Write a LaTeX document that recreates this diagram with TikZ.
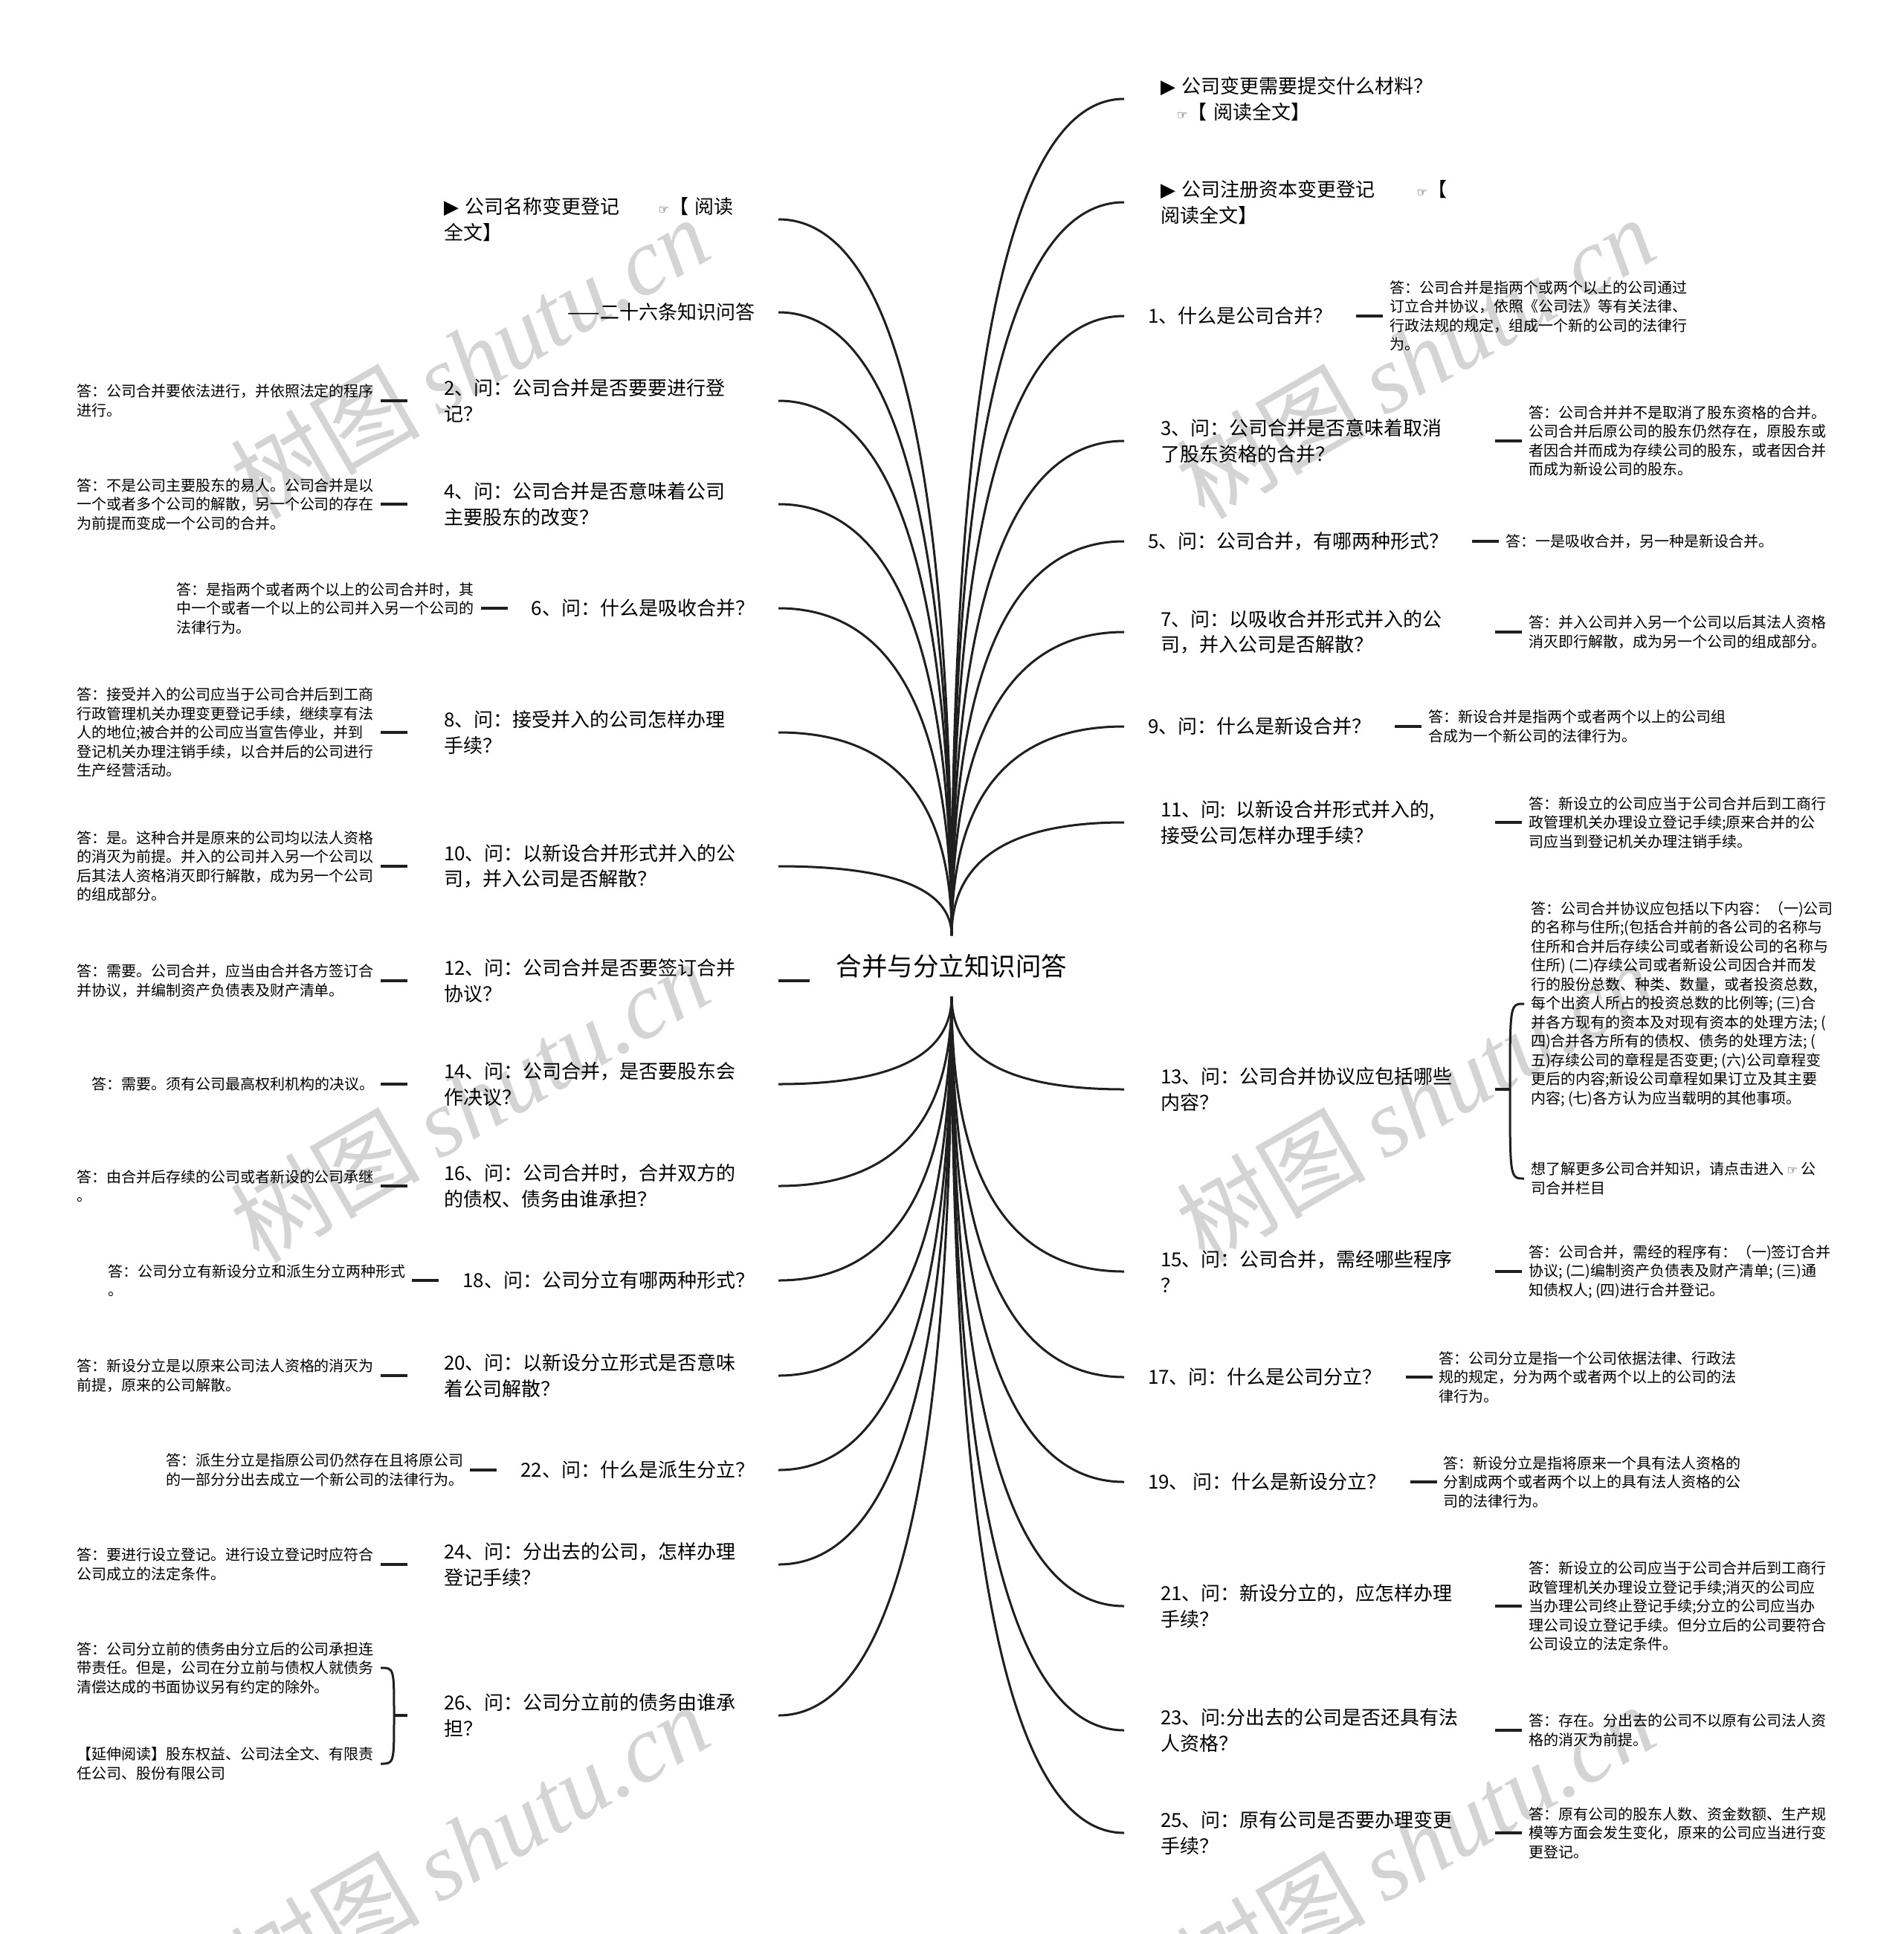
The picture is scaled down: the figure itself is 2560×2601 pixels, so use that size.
\documentclass[tikz,border=0pt]{standalone}
\usepackage{fontspec}
\setmainfont{Noto Sans CJK SC}
\newfontfamily\sym{DejaVu Sans}
\newfontfamily\wmlat{Liberation Serif}
\usetikzlibrary{calc,positioning}
\newcommand\rootlink[2]{\draw[link] (#1) .. controls ($(#1)!0.667!(#1|-#2)$) and ($(#2)!0.667!(#1|-#2)$) .. (#2);}
\newcommand\hand{{\sym\fontsize{8}{8}\selectfont ☞}}
\newcommand\tri{{\sym ▶}}
\newcommand\wmark[2]{\node[wm] (#1) at (#2) {树图\kern12pt{\wmlat\itshape shutu.cn}};}
\begin{document}
\begin{tikzpicture}[x=0.5pt,y=-0.5pt,
  every node/.style={inner sep=0pt, outer sep=0pt},
  qtwo/.style={text width=200.5pt, align=left, inner xsep=24.5pt, inner ysep=0pt, font=\fontsize{13}{17.25}\selectfont},
  qone/.style={inner xsep=16pt, inner ysep=0pt, font=\fontsize{13}{17.25}\selectfont},
  ans/.style={align=left, inner xsep=4.5pt, inner ysep=0pt, font=\fontsize{10}{12.75}\selectfont},
  rootnode/.style={font=\fontsize{17.25}{20}\selectfont, minimum height=41pt, inner xsep=18pt, inner ysep=0pt},
  link/.style={line width=1.5pt, draw=black!88},
  stub/.style={line width=1.7pt, draw=black!88},
  wm/.style={text=black!17, font=\fontsize{64}{66}\selectfont, inner sep=0pt, anchor=base west, rotate=30},
]
\useasboundingbox (0,0) rectangle (2560,2601);
\clip (0,0) rectangle (2560,2601);
\fill[white] (0,0) rectangle (2560,2601);

% watermarks
\wmark{wm1}{348,700}
\wmark{wm2}{1620,700}
\wmark{wm3}{348,1700}
\wmark{wm4}{1620,1700}
\wmark{wm5}{348,2700}
\wmark{wm6}{1620,2700}

% root
\node[rootnode] (root) at (1280,1299) {合并与分立知识问答};

% ---------------- left questions
\node[qtwo, anchor=east] (qL0) at (1047,295) {\tri\ 公司名称变更登记\hspace{26pt}\hand【 阅读\\全文】};
\node[qone, anchor=east] (qL1) at (1047,420) {——二十六条知识问答};
\node[qtwo, anchor=east] (qL2) at (1047,539) {2、问：公司合并是否要要进行登\\记？};
\node[qtwo, anchor=east] (qL3) at (1047,678) {4、问：公司合并是否意味着公司\\主要股东的改变？};
\node[qone, anchor=east] (qL4) at (1047,818) {6、问：什么是吸收合并？};
\node[qtwo, anchor=east] (qL5) at (1047,985) {8、问：接受并入的公司怎样办理\\手续？};
\node[qtwo, anchor=east] (qL6) at (1047,1165) {10、问：以新设合并形式并入的公\\司，并入公司是否解散？};
\node[qtwo, anchor=east] (qL7) at (1047,1319) {12、问：公司合并是否要签订合并\\协议？};
\node[qtwo, anchor=east] (qL8) at (1047,1458) {14、问：公司合并，是否要股东会\\作决议？};
\node[qtwo, anchor=east] (qL9) at (1047,1595) {16、问：公司合并时，合并双方的\\的债权、债务由谁承担？};
\node[qone, anchor=east] (qL10) at (1047,1722) {18、问：公司分立有哪两种形式？};
\node[qtwo, anchor=east] (qL11) at (1047,1850) {20、问：以新设分立形式是否意味\\着公司解散？};
\node[qone, anchor=east] (qL12) at (1047,1977) {22、问：什么是派生分立？};
\node[qtwo, anchor=east] (qL13) at (1047,2104) {24、问：分出去的公司，怎样办理\\登记手续？};
\node[qtwo, anchor=east] (qL14) at (1047,2307) {26、问：公司分立前的债务由谁承\\担？};

% ---------------- left answers
\node[ans, left=18pt of qL2] (aL2) {答：公司合并要依法进行，并依照法定的程序\\进行。};
\node[ans, left=18pt of qL3] (aL3) {答：不是公司主要股东的易人。公司合并是以\\一个或者多个公司的解散，另一个公司的存在\\为前提而变成一个公司的合并。};
\node[ans, left=18pt of qL4] (aL4) {答：是指两个或者两个以上的公司合并时，其\\中一个或者一个以上的公司并入另一个公司的\\法律行为。};
\node[ans, left=18pt of qL5] (aL5) {答：接受并入的公司应当于公司合并后到工商\\行政管理机关办理变更登记手续，继续享有法\\人的地位;被合并的公司应当宣告停业，并到\\登记机关办理注销手续，以合并后的公司进行\\生产经营活动。};
\node[ans, left=18pt of qL6] (aL6) {答：是。这种合并是原来的公司均以法人资格\\的消灭为前提。并入的公司并入另一个公司以\\后其法人资格消灭即行解散，成为另一个公司\\的组成部分。};
\node[ans, left=18pt of qL7] (aL7) {答：需要。公司合并，应当由合并各方签订合\\并协议，并编制资产负债表及财产清单。};
\node[ans, left=18pt of qL8] (aL8) {答：需要。须有公司最高权利机构的决议。};
\node[ans, left=18pt of qL9] (aL9) {答：由合并后存续的公司或者新设的公司承继\\。};
\node[ans, left=18pt of qL10] (aL10) {答：公司分立有新设分立和派生分立两种形式\\。};
\node[ans, left=18pt of qL11] (aL11) {答：新设分立是以原来公司法人资格的消灭为\\前提，原来的公司解散。};
\node[ans, left=18pt of qL12] (aL12) {答：派生分立是指原公司仍然存在且将原公司\\的一部分分出去成立一个新公司的法律行为。};
\node[ans, left=18pt of qL13] (aL13) {答：要进行设立登记。进行设立登记时应符合\\公司成立的法定条件。};
\node[ans, anchor=east] (aL14a) at (512,2243) {答：公司分立前的债务由分立后的公司承担连\\带责任。但是，公司在分立前与债权人就债务\\清偿达成的书面协议另有约定的除外。};
\node[ans, anchor=east] (aL14b) at (512,2372) {【延伸阅读】股东权益、公司法全文、有限责\\任公司、股份有限公司};

% ---------------- right questions
\node[qtwo, anchor=west] (qR0) at (1512,133) {\tri\ 公司变更需要提交什么材料？\\\hspace*{11pt}\hand【 阅读全文】};
\node[qtwo, anchor=west] (qR1) at (1512,272) {\tri\ 公司注册资本变更登记\hspace{28pt}\hand【\\阅读全文】};
\node[qone, anchor=west] (qR2) at (1512,425) {1、什么是公司合并？};
\node[qtwo, anchor=west] (qR3) at (1512,593) {3、问：公司合并是否意味着取消\\了股东资格的合并？};
\node[qone, anchor=west] (qR4) at (1512,728) {5、问：公司合并，有哪两种形式？};
\node[qtwo, anchor=west] (qR5) at (1512,850) {7、问：以吸收合并形式并入的公\\司，并入公司是否解散？};
\node[qone, anchor=west] (qR6) at (1512,977) {9、问：什么是新设合并？};
\node[qtwo, anchor=west] (qR7) at (1512,1106) {11、问: 以新设合并形式并入的,\\接受公司怎样办理手续？};
\node[qtwo, anchor=west] (qR8) at (1512,1465) {13、问：公司合并协议应包括哪些\\内容？};
\node[qtwo, anchor=west] (qR9) at (1512,1710) {15、问：公司合并，需经哪些程序\\？};
\node[qone, anchor=west] (qR10) at (1512,1852) {17、问：什么是公司分立？};
\node[qone, anchor=west] (qR11) at (1512,1993) {19、 问：什么是新设分立？};
\node[qtwo, anchor=west] (qR12) at (1512,2160) {21、问：新设分立的，应怎样办理\\手续？};
\node[qtwo, anchor=west] (qR13) at (1512,2327) {23、问:分出去的公司是否还具有法\\人资格？};
\node[qtwo, anchor=west] (qR14) at (1512,2465) {25、问：原有公司是否要办理变更\\手续？};

% ---------------- right answers
\node[ans, right=18pt of qR2] (aR2) {答：公司合并是指两个或两个以上的公司通过\\订立合并协议，依照《公司法》等有关法律、\\行政法规的规定，组成一个新的公司的法律行\\为。};
\node[ans, right=18pt of qR3] (aR3) {答：公司合并并不是取消了股东资格的合并。\\公司合并后原公司的股东仍然存在，原股东或\\者因合并而成为存续公司的股东，或者因合并\\而成为新设公司的股东。};
\node[ans, right=18pt of qR4] (aR4) {答：一是吸收合并，另一种是新设合并。};
\node[ans, right=18pt of qR5] (aR5) {答：并入公司并入另一个公司以后其法人资格\\消灭即行解散，成为另一个公司的组成部分。};
\node[ans, right=18pt of qR6] (aR6) {答：新设合并是指两个或者两个以上的公司组\\合成为一个新公司的法律行为。};
\node[ans, right=18pt of qR7] (aR7) {答：新设立的公司应当于公司合并后到工商行\\政管理机关办理设立登记手续;原来合并的公\\司应当到登记机关办理注销手续。};
\node[ans, anchor=west] (aR8a) at (2050,1350) {答：公司合并协议应包括以下内容：（一)公司\\的名称与住所;(包括合并前的各公司的名称与\\住所和合并后存续公司或者新设公司的名称与\\住所) (二)存续公司或者新设公司因合并而发\\行的股份总数、种类、数量，或者投资总数,\\每个出资人所占的投资总数的比例等; (三)合\\并各方现有的资本及对现有资本的处理方法; (\\四)合并各方所有的债权、债务的处理方法; (\\五)存续公司的章程是否变更; (六)公司章程变\\更后的内容;新设公司章程如果订立及其主要\\内容; (七)各方认为应当载明的其他事项。};
\node[ans, anchor=west] (aR8b) at (2050,1585) {想了解更多公司合并知识，请点击进入 \hand\ 公\\司合并栏目};
\node[ans, right=18pt of qR9] (aR9) {答：公司合并，需经的程序有：（一)签订合并\\协议; (二)编制资产负债表及财产清单; (三)通\\知债权人; (四)进行合并登记。};
\node[ans, right=18pt of qR10] (aR10) {答：公司分立是指一个公司依据法律、行政法\\规的规定，分为两个或者两个以上的公司的法\\律行为。};
\node[ans, right=18pt of qR11] (aR11) {答：新设分立是指将原来一个具有法人资格的\\分割成两个或者两个以上的具有法人资格的公\\司的法律行为。};
\node[ans, right=18pt of qR12] (aR12) {答：新设立的公司应当于公司合并后到工商行\\政管理机关办理设立登记手续;消灭的公司应\\当办理公司终止登记手续;分立的公司应当办\\理公司设立登记手续。但分立后的公司要符合\\公司设立的法定条件。};
\node[ans, right=18pt of qR13] (aR13) {答：存在。分出去的公司不以原有公司法人资\\格的消灭为前提。};
\node[ans, right=18pt of qR14] (aR14) {答：原有公司的股东人数、资金数额、生产规\\模等方面会发生变化，原来的公司应当进行变\\更登记。};

% ---------------- root links
\foreach \n in {qL0,qL1,qL2,qL3,qL4,qL5,qL6}{\rootlink{root.north}{\n.east}}
\foreach \n in {qL8,qL9,qL10,qL11,qL12,qL13,qL14}{\rootlink{root.south}{\n.east}}
\foreach \n in {qR0,qR1,qR2,qR3,qR4,qR5,qR6,qR7}{\rootlink{root.north}{\n.west}}
\foreach \n in {qR8,qR9,qR10,qR11,qR12,qR13,qR14}{\rootlink{root.south}{\n.west}}
\draw[stub] (qL7.east) -- (qL7.east -| root.west);

% ---------------- answer connectors
\foreach \n in {L2,L3,L4,L5,L6,L7,L8,L9,L10,L11,L12,L13,R2,R3,R4,R5,R6,R7,R9,R10,R11,R12,R13,R14}{\draw[stub] (a\n) -- (q\n);}

% braces
\coordinate (bR8) at ($(qR8.east)+(10pt,0)$);
\draw[stub] (qR8.east) -- (bR8);
\draw[link] (bR8) .. controls (bR8 |- aR8a.west) .. (aR8a.west);
\draw[link] (bR8) .. controls (bR8 |- aR8b.west) .. (aR8b.west);
\coordinate (bL14) at ($(qL14.west)+(-9pt,0)$);
\draw[stub] (qL14.west) -- (bL14);
\draw[link] (bL14) .. controls (bL14 |- aL14a.east) .. (aL14a.east);
\draw[link] (bL14) .. controls (bL14 |- aL14b.east) .. (aL14b.east);
\end{tikzpicture}
\end{document}
